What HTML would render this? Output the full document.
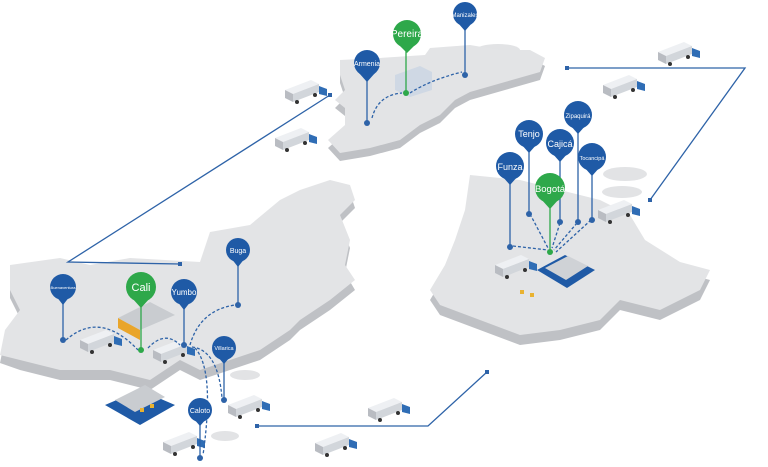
<!DOCTYPE html>
<html><head><meta charset="utf-8"><style>
html,body{margin:0;padding:0;background:#fff;}
svg{display:block;font-family:"Liberation Sans",sans-serif;}
</style></head><body>
<svg width="768" height="467" viewBox="0 0 768 467" xmlns="http://www.w3.org/2000/svg">
<defs>
<g id="truck">
 <polygon points="0,10 26,0 34,4 8,14" fill="#eef0f3"/>
 <polygon points="0,10 8,14 8,22 0,18" fill="#b9bcc2"/>
 <polygon points="8,14 34,4 34,12 8,22" fill="#d2d6db"/>
 <polygon points="34,6 42,9 42,16 34,14" fill="#2f6db5"/>
 <circle cx="12" cy="22" r="2" fill="#333"/><circle cx="30" cy="15" r="2" fill="#333"/>
</g>
</defs>
<g fill="#e2e3e5">
<ellipse cx="625" cy="174" rx="22" ry="7"/><ellipse cx="622" cy="192" rx="20" ry="6"/>
<ellipse cx="498" cy="50" rx="22" ry="6"/><ellipse cx="440" cy="64" rx="18" ry="6"/>
<ellipse cx="262" cy="283" rx="18" ry="6"/><ellipse cx="245" cy="375" rx="15" ry="5"/><ellipse cx="225" cy="436" rx="14" ry="5"/>
</g>
<polygon points="340,68 380,66 425,63 430,56 470,53 500,58 530,58 545,66 540,80 505,90 470,100 455,108 440,123 420,133 400,148 370,156 340,161 328,148 345,133 345,116 335,108 345,98 340,83" fill="#bfc1c5"/>
<polygon points="340,60 380,58 425,55 430,48 470,45 500,50 530,50 545,58 540,72 505,82 470,92 455,100 440,115 420,125 400,140 370,148 340,153 328,140 345,125 345,108 335,100 345,90 340,75" fill="#e3e4e6"/>
<polygon points="10,273 60,266 90,273 130,266 200,270 210,240 250,233 280,208 300,198 330,188 350,193 355,208 340,223 350,248 345,273 355,290 330,310 300,330 290,340 260,360 230,370 200,380 180,370 150,390 110,380 60,380 20,370 0,363 5,338 20,318 10,298" fill="#bfc1c5"/>
<polygon points="10,265 60,258 90,265 130,258 200,262 210,232 250,225 280,200 300,190 330,180 350,185 355,200 340,215 350,240 345,265 355,280 330,300 300,320 290,330 260,350 230,360 200,370 180,360 150,380 110,370 60,370 20,360 0,355 5,330 20,310 10,290" fill="#e3e4e6"/>
<polygon points="470,185 520,190 560,200 600,210 630,225 645,250 680,272 710,280 700,300 680,310 660,320 620,310 600,330 560,340 520,345 480,330 440,315 430,300 445,275 455,250 465,220" fill="#bfc1c5"/>
<polygon points="470,175 520,180 560,190 600,200 630,215 645,240 680,262 710,270 700,290 680,300 660,310 620,300 600,320 560,330 520,335 480,320 440,305 430,290 445,265 455,240 465,210" fill="#e3e4e6"/>
<g stroke="#2e63a8" stroke-width="1.3" fill="none">
<polyline points="330,95 68,262 180,264"/>
<polyline points="567,68 745,68 650,200"/>
<polyline points="257,426 428,426 487,372"/>
</g>
<g fill="#2e63a8"><rect x="328" y="93" width="4" height="4"/><rect x="178" y="262" width="4" height="4"/><rect x="565" y="66" width="4" height="4"/><rect x="648" y="198" width="4" height="4"/><rect x="255" y="424" width="4" height="4"/><rect x="485" y="370" width="4" height="4"/></g>
<g>
<polygon points="395,75 420,66 432,72 432,90 410,97 395,90" fill="#cfd8e4"/>
<polygon points="105,405 140,390 175,405 140,425" fill="#1f5aa6"/>
<polygon points="115,400 145,385 165,397 135,412" fill="#c9ccd0"/>
<polygon points="118,318 150,302 175,315 140,330" fill="#c9ccd0"/>
<polygon points="118,318 140,330 140,340 118,328" fill="#e9a52a"/>
<polygon points="537,270 565,255 595,270 567,288" fill="#1f5aa6"/>
<polygon points="545,268 568,256 588,266 566,280" fill="#cfd2d6"/>
<polygon points="495,270 520,258 530,265 505,277" fill="#d5d7db"/>
<g fill="#e9b230"><rect x="520" y="290" width="4" height="4"/><rect x="530" y="293" width="4" height="4"/><rect x="140" y="408" width="4" height="4"/><rect x="150" y="404" width="4" height="4"/></g>
</g>
<g>
<use href="#truck" x="285" y="80"/><use href="#truck" x="275" y="128"/>
<use href="#truck" x="658" y="42"/><use href="#truck" x="603" y="75"/>
<use href="#truck" x="598" y="200"/><use href="#truck" x="495" y="255"/>
<use href="#truck" x="80" y="330"/><use href="#truck" x="153" y="340"/>
<use href="#truck" x="228" y="395"/><use href="#truck" x="163" y="432"/>
<use href="#truck" x="315" y="433"/><use href="#truck" x="368" y="398"/>
</g>
<g stroke="#2e63a8" stroke-width="1.3" fill="none" stroke-dasharray="3,2">
<path d="M372,118 Q378,95 402,93"/><path d="M410,93 Q430,80 462,72"/>
<path d="M66,340 Q100,310 138,350"/><path d="M148,348 Q165,330 180,345"/>
<path d="M190,345 Q200,310 235,305"/><path d="M192,347 Q218,350 222,398"/><path d="M195,348 Q215,370 203,455"/>
<path d="M513,246 L548,250"/><path d="M530,214 L548,248"/><path d="M560,223 L552,248"/><path d="M577,223 L554,250"/><path d="M591,220 L556,252"/>
</g>
<g font-size="8" fill="#fff" text-anchor="middle">
<g><line x1="367" y1="70" x2="367" y2="123" stroke="#2e63a8" stroke-width="1.3"/><circle cx="367" cy="123" r="3" fill="#2e63a8"/><circle cx="367" cy="63" r="13" fill="#1f5aa6"/><polygon points="359,73 375,73 367,82" fill="#1f5aa6"/><text x="367" y="66" font-size="7">Armenia</text></g>
<g><line x1="406" y1="40" x2="406" y2="93" stroke="#2ea84a" stroke-width="1.3"/><circle cx="406" cy="93" r="3" fill="#2ea84a"/><circle cx="407" cy="34" r="14" fill="#2ea84a"/><polygon points="398,44 416,44 407,53" fill="#2ea84a"/><text x="407" y="37" font-size="10">Pereira</text></g>
<g><line x1="465" y1="20" x2="465" y2="75" stroke="#2e63a8" stroke-width="1.3"/><circle cx="465" cy="75" r="3" fill="#2e63a8"/><circle cx="465" cy="14" r="12" fill="#1f5aa6"/><polygon points="458,23 472,23 465,31" fill="#1f5aa6"/><text x="465" y="17" font-size="6">Manizales</text></g>
<g><line x1="63" y1="292" x2="63" y2="340" stroke="#2e63a8" stroke-width="1.3"/><circle cx="63" cy="340" r="3" fill="#2e63a8"/><circle cx="63" cy="287" r="13" fill="#1f5aa6"/><polygon points="56,296 70,296 63,305" fill="#1f5aa6"/><text x="63" y="289" font-size="4">Buenaventura</text></g>
<g><line x1="141" y1="292" x2="141" y2="350" stroke="#2ea84a" stroke-width="1.3"/><circle cx="141" cy="350" r="3" fill="#2ea84a"/><circle cx="141" cy="287" r="15" fill="#2ea84a"/><polygon points="132,298 150,298 141,308" fill="#2ea84a"/><text x="141" y="291" font-size="11">Cali</text></g>
<g><line x1="184" y1="297" x2="184" y2="345" stroke="#2e63a8" stroke-width="1.3"/><circle cx="184" cy="345" r="3" fill="#2e63a8"/><circle cx="184" cy="292" r="13" fill="#1f5aa6"/><polygon points="177,301 191,301 184,310" fill="#1f5aa6"/><text x="184" y="295" font-size="8">Yumbo</text></g>
<g><line x1="238" y1="255" x2="238" y2="305" stroke="#2e63a8" stroke-width="1.3"/><circle cx="238" cy="305" r="3" fill="#2e63a8"/><circle cx="238" cy="250" r="12" fill="#1f5aa6"/><polygon points="231,258 245,258 238,267" fill="#1f5aa6"/><text x="238" y="253" font-size="7">Buga</text></g>
<g><line x1="224" y1="352" x2="224" y2="400" stroke="#2e63a8" stroke-width="1.3"/><circle cx="224" cy="400" r="3" fill="#2e63a8"/><circle cx="224" cy="348" r="12" fill="#1f5aa6"/><polygon points="217,356 231,356 224,364" fill="#1f5aa6"/><text x="224" y="350" font-size="5.5">Villarica</text></g>
<g><line x1="200" y1="414" x2="200" y2="458" stroke="#2e63a8" stroke-width="1.3"/><circle cx="200" cy="458" r="3" fill="#2e63a8"/><circle cx="200" cy="410" r="12" fill="#1f5aa6"/><polygon points="193,418 207,418 200,426" fill="#1f5aa6"/><text x="200" y="413" font-size="7">Caloto</text></g>
<g><line x1="510" y1="172" x2="510" y2="247" stroke="#2e63a8" stroke-width="1.3"/><circle cx="510" cy="247" r="3" fill="#2e63a8"/><circle cx="510" cy="166" r="14" fill="#1f5aa6"/><polygon points="502,176 518,176 510,185" fill="#1f5aa6"/><text x="510" y="170" font-size="9">Funza</text></g>
<g><line x1="529" y1="138" x2="529" y2="214" stroke="#2e63a8" stroke-width="1.3"/><circle cx="529" cy="214" r="3" fill="#2e63a8"/><circle cx="529" cy="134" r="14" fill="#1f5aa6"/><polygon points="521,144 537,144 529,153" fill="#1f5aa6"/><text x="529" y="137" font-size="9">Tenjo</text></g>
<g><line x1="560" y1="148" x2="560" y2="222" stroke="#2e63a8" stroke-width="1.3"/><circle cx="560" cy="222" r="3" fill="#2e63a8"/><circle cx="560" cy="143" r="14" fill="#1f5aa6"/><polygon points="552,153 568,153 560,162" fill="#1f5aa6"/><text x="560" y="147" font-size="9">Cajicá</text></g>
<g><line x1="578" y1="120" x2="578" y2="222" stroke="#2e63a8" stroke-width="1.3"/><circle cx="578" cy="222" r="3" fill="#2e63a8"/><circle cx="578" cy="115" r="14" fill="#1f5aa6"/><polygon points="570,125 586,125 578,134" fill="#1f5aa6"/><text x="578" y="118" font-size="6">Zipaquirá</text></g>
<g><line x1="592" y1="162" x2="592" y2="220" stroke="#2e63a8" stroke-width="1.3"/><circle cx="592" cy="220" r="3" fill="#2e63a8"/><circle cx="592" cy="157" r="14" fill="#1f5aa6"/><polygon points="584,167 600,167 592,176" fill="#1f5aa6"/><text x="592" y="160" font-size="5.5">Tocancipá</text></g>
<g><line x1="550" y1="194" x2="550" y2="252" stroke="#2ea84a" stroke-width="1.3"/><circle cx="550" cy="252" r="3" fill="#2ea84a"/><circle cx="550" cy="188" r="15" fill="#2ea84a"/><polygon points="541,199 559,199 550,209" fill="#2ea84a"/><text x="550" y="192" font-size="9.5">Bogotá</text></g>
</g>
</svg>
</body></html>
